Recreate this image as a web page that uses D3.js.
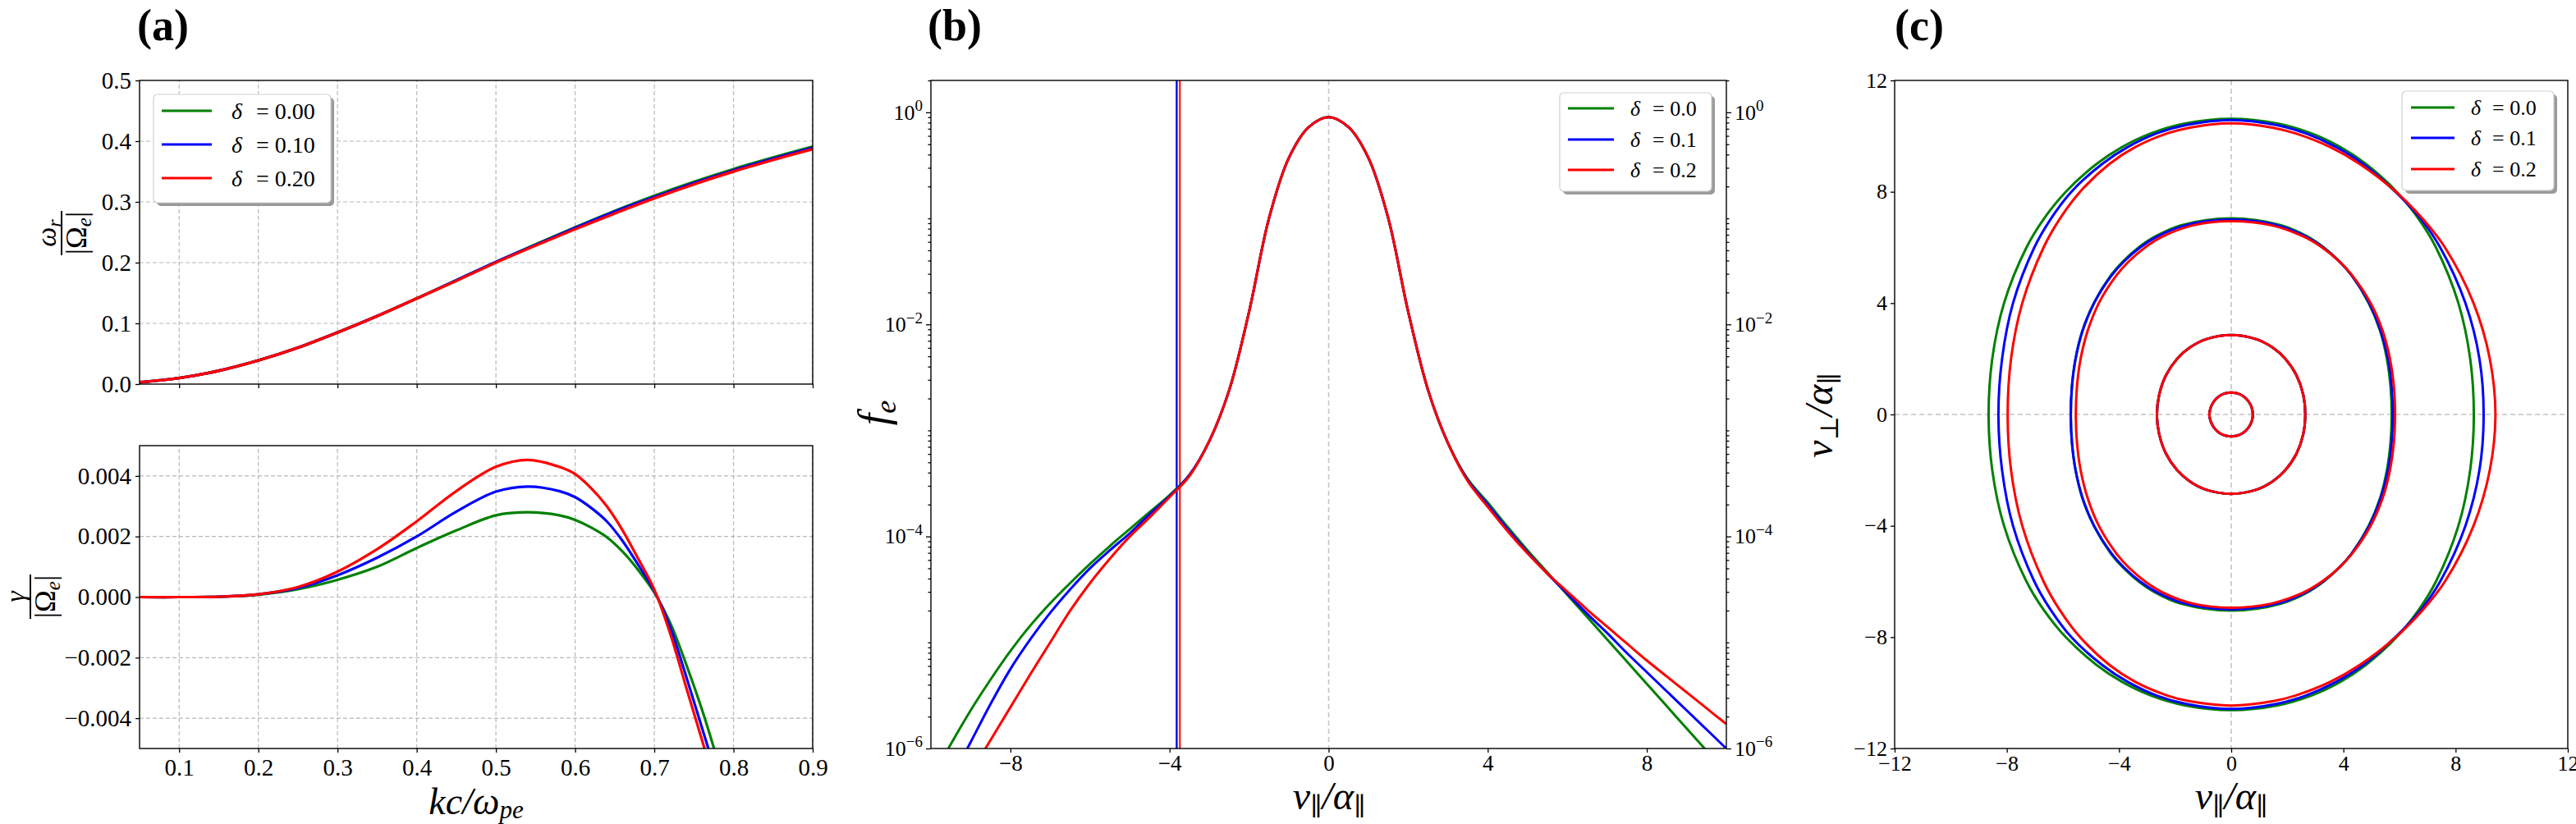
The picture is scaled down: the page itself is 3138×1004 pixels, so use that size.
<!DOCTYPE html>
<html>
<head>
<meta charset="utf-8">
<style>
  body { margin: 0; background: #fff; }
  svg text { fill: #000; font-family: "Liberation Serif", "DejaVu Serif", serif; }
</style>
</head>
<body>
<svg id="fig" width="3138" height="1004"></svg>
<script src="https://d3js.org/d3.v7.min.js"></script>
<script>
// ---------------- data ----------------
var seriesColors = ["green", "blue", "red"];
var deltaLabelsA = ["0.00", "0.10", "0.20"];
var deltaLabelsBC = ["0.0", "0.1", "0.2"];

// (a) top: real frequency omega_r/|Omega_e|
var kcOmega = [0.05, 0.1, 0.15, 0.2, 0.25, 0.3, 0.35, 0.4, 0.45, 0.5, 0.55, 0.6, 0.65, 0.7, 0.75, 0.8, 0.85, 0.9];
var omegaR00 = [0.003, 0.010, 0.022, 0.039, 0.060, 0.085, 0.112, 0.141, 0.171, 0.201, 0.230, 0.258, 0.285, 0.310, 0.333, 0.354, 0.373, 0.391];
var omegaR10 = [0.003, 0.010, 0.022, 0.039, 0.060, 0.085, 0.112, 0.141, 0.171, 0.201, 0.229, 0.257, 0.284, 0.308, 0.331, 0.352, 0.371, 0.389];
var omegaR20 = [0.003, 0.010, 0.022, 0.039, 0.060, 0.085, 0.112, 0.141, 0.170, 0.200, 0.228, 0.255, 0.281, 0.306, 0.329, 0.350, 0.369, 0.387];

// (a) bottom: growth rate gamma/|Omega_e|
var kcGamma = [0.05, 0.1, 0.15, 0.2, 0.25, 0.3, 0.35, 0.4, 0.45, 0.5, 0.54, 0.58, 0.6, 0.62, 0.64, 0.66, 0.68, 0.7, 0.72, 0.74, 0.76, 0.78];
var gamma00 = [0, 0, 0.00001, 0.00008, 0.00026, 0.00057, 0.001, 0.00162, 0.0022, 0.0027, 0.0028, 0.0027, 0.00255, 0.0023, 0.00198, 0.0015, 0.00088, 0.00015, -0.00085, -0.0022, -0.0037, -0.0054];
var gamma10 = [0, 0, 0.00001, 0.00009, 0.0003, 0.00072, 0.0013, 0.002, 0.00282, 0.00348, 0.00365, 0.0035, 0.0033, 0.00295, 0.0025, 0.00185, 0.00105, 0.0002, -0.001, -0.0026, -0.0043, -0.006];
var gamma20 = [0, 0, 0.00001, 0.00009, 0.00033, 0.00084, 0.00158, 0.0025, 0.0035, 0.0043, 0.00453, 0.0043, 0.00406, 0.0036, 0.003, 0.0022, 0.00125, 0.00025, -0.0012, -0.00296, -0.0047, -0.0065];

// (b) f_e, read as decades (log10 f_e) on the log axis
var vPar = [-10, -9.5, -9, -8.5, -8, -7.5, -7, -6.5, -6, -5.5, -5, -4.5, -4, -3.5, -3, -2.5, -2, -1.5, -1, -0.5, 0,
            0.5, 1, 1.5, 2, 2.5, 3, 3.5, 4, 4.5, 5, 5.5, 6, 6.5, 7, 7.5, 8, 8.5, 9, 9.5, 10];
var feDec00 = [-6.3, -5.96, -5.64, -5.35, -5.08, -4.84, -4.63, -4.44, -4.26, -4.09, -3.93, -3.77, -3.61, -3.42, -3.1, -2.62, -1.88, -1.0, -0.43, -0.14, -0.046,
               -0.14, -0.43, -1.0, -1.88, -2.62, -3.12, -3.46, -3.68, -3.91, -4.13, -4.34, -4.55, -4.76, -4.97, -5.18, -5.39, -5.6, -5.81, -6.02, -6.23];
var feDec10 = [-6.68, -6.3, -5.94, -5.58, -5.25, -4.97, -4.72, -4.5, -4.3, -4.13, -3.97, -3.79, -3.62, -3.42, -3.1, -2.62, -1.88, -1.0, -0.43, -0.14, -0.046,
               -0.14, -0.43, -1.0, -1.88, -2.62, -3.12, -3.47, -3.70, -3.93, -4.15, -4.35, -4.54, -4.73, -4.91, -5.10, -5.28, -5.46, -5.64, -5.82, -6.0];
var feDec20 = [-6.87, -6.55, -6.23, -5.92, -5.61, -5.3, -5.0, -4.7, -4.44, -4.21, -4.0, -3.82, -3.63, -3.43, -3.1, -2.62, -1.88, -1.0, -0.43, -0.14, -0.046,
               -0.14, -0.43, -1.0, -1.88, -2.62, -3.12, -3.48, -3.72, -3.95, -4.16, -4.35, -4.52, -4.69, -4.85, -5.01, -5.17, -5.32, -5.47, -5.62, -5.77];
var cutoffV = [-3.82, -3.82, -3.74];

// (c) contours of f_e: upper half [v_par, v_perp]; the lower half is its mirror in v_perp
var outer00 = [[8.65,0],[8.52,2],[8.1,4],[7.3,6],[6.7,7],[5.9,8],[4.8,9],[3.9,9.6],[2.85,10.1],[1.65,10.45],[0,10.62],
               [-1.65,10.45],[-2.85,10.1],[-3.9,9.6],[-4.8,9],[-5.9,8],[-6.7,7],[-7.3,6],[-8.1,4],[-8.52,2],[-8.65,0]];
var outer10 = [[9.0,0],[8.85,2],[8.35,4],[7.45,6],[6.78,7],[5.85,8],[4.7,9],[3.75,9.6],[2.65,10.1],[1.6,10.4],[0,10.58],
               [-1.6,10.4],[-2.65,10.1],[-3.7,9.6],[-4.6,9],[-5.7,8],[-6.45,7],[-7.02,6],[-7.78,4],[-8.17,2],[-8.3,0]];
var outer20 = [[9.42,0],[9.22,2],[8.64,4],[7.62,6],[6.85,7],[5.87,8],[4.58,9],[3.54,9.6],[2.28,10.1],[1.5,10.3],[0,10.46],
               [-1.5,10.3],[-2.27,10.1],[-3.43,9.6],[-4.34,9],[-5.39,8],[-6.13,7],[-6.69,6],[-7.45,4],[-7.85,2],[-7.97,0]];
var second00 = [[5.72,0],[5.68,1],[5.55,2],[5.31,3],[4.9,4],[4.29,5],[3.86,5.5],[3.3,6],[2.7,6.4],[1.78,6.8],[0,7.05],
                [-1.78,6.8],[-2.7,6.4],[-3.3,6],[-3.86,5.5],[-4.29,5],[-4.9,4],[-5.31,3],[-5.55,2],[-5.68,1],[-5.72,0]];
var second10 = [[5.76,0],[5.72,1],[5.59,2],[5.33,3],[4.92,4],[4.29,5],[3.85,5.5],[3.27,6],[2.64,6.4],[1.63,6.8],[0,7.0],
                [-1.62,6.8],[-2.62,6.4],[-3.25,6],[-3.82,5.5],[-4.26,5],[-4.89,4],[-5.3,3],[-5.55,2],[-5.68,1],[-5.72,0]];
var second20 = [[5.84,0],[5.8,1],[5.66,2],[5.4,3],[4.97,4],[4.31,5],[3.85,5.5],[3.24,6],[2.56,6.4],[1.41,6.8],[0,6.94],
                [-1.34,6.8],[-2.43,6.4],[-3.07,6],[-3.65,5.5],[-4.09,5],[-4.72,4],[-5.12,3],[-5.37,2],[-5.5,1],[-5.54,0]];
var third00 = [[2.64,0],[2.57,0.7],[2.33,1.4],[1.93,2.0],[1.48,2.4],[0.9,2.7],[0,2.85],
               [-0.9,2.7],[-1.48,2.4],[-1.93,2.0],[-2.33,1.4],[-2.57,0.7],[-2.65,0]];
var inner00 = [[0.77,0],[0.73,0.25],[0.63,0.45],[0.5,0.6],[0.36,0.7],[0.21,0.76],[0,0.79],
               [-0.21,0.76],[-0.36,0.7],[-0.5,0.6],[-0.63,0.45],[-0.73,0.25],[-0.78,0]];

// ---------------- figure ----------------
var FONT = '"Liberation Serif", "DejaVu Serif", serif';
var svg = d3.select("#fig").attr("font-family", FONT);
var defs = svg.append("defs");

var xA = d3.scaleLinear().domain([0.05, 0.9]).range([170, 990]);
var yAtop = d3.scaleLinear().domain([0, 0.5]).range([468, 98]);
var yAbot = d3.scaleLinear().domain([-0.005, 0.005]).range([912, 543]);
var xB = d3.scaleLinear().domain([-10, 10]).range([1134, 2103]);
var yB = d3.scaleLog().domain([1e-6, 2]).range([912, 98]);
var xC = d3.scaleLinear().domain([-12, 12]).range([2308, 3128]);
var yC = d3.scaleLinear().domain([-12, 12]).range([912, 98]);

function addClip(id, xs, ys) {
  defs.append("clipPath").attr("id", id).append("rect")
      .attr("x", xs.range()[0]).attr("y", ys.range()[1])
      .attr("width", xs.range()[1] - xs.range()[0])
      .attr("height", ys.range()[0] - ys.range()[1]);
}
addClip("clipAt", xA, yAtop);
addClip("clipAb", xA, yAbot);
addClip("clipB", xB, yB);
addClip("clipC", xC, yC);

function styleAxis(g, fs) {
  g.attr("font-family", FONT).attr("font-size", fs);
  g.select(".domain").remove();
  g.selectAll(".tick line").attr("stroke", "#000").attr("stroke-width", 1.3);
  g.selectAll(".tick text").attr("fill", "#000");
}

function frame(xs, ys) {
  svg.append("rect")
      .attr("x", xs.range()[0]).attr("y", ys.range()[1])
      .attr("width", xs.range()[1] - xs.range()[0])
      .attr("height", ys.range()[0] - ys.range()[1])
      .attr("fill", "none").attr("stroke", "#000").attr("stroke-width", 1.4);
}

// dashed grid for panel (a)
var xTicksA = [0.1, 0.2, 0.3, 0.4, 0.5, 0.6, 0.7, 0.8, 0.9];
function gridA(ys, yTicks) {
  var g = svg.append("g").attr("stroke", "#b8b8b8").attr("stroke-width", 1.2).attr("stroke-dasharray", "5,3");
  g.selectAll("line.gx").data(xTicksA).join("line").attr("class", "gx")
      .attr("x1", function(d) { return xA(d); }).attr("x2", function(d) { return xA(d); })
      .attr("y1", ys.range()[0]).attr("y2", ys.range()[1]);
  g.selectAll("line.gy").data(yTicks).join("line").attr("class", "gy")
      .attr("x1", xA.range()[0]).attr("x2", xA.range()[1])
      .attr("y1", function(d) { return ys(d); }).attr("y2", function(d) { return ys(d); });
}

// ---------- panel (a) top ----------
var yTicksAt = [0, 0.1, 0.2, 0.3, 0.4, 0.5];
gridA(yAtop, [0.1, 0.2, 0.3, 0.4]);
var lineAt = d3.line().curve(d3.curveCatmullRom)
    .x(function(d) { return xA(d[0]); }).y(function(d) { return yAtop(d[1]); });
[omegaR00, omegaR10, omegaR20].forEach(function(s, i) {
  svg.append("path").attr("clip-path", "url(#clipAt)")
      .attr("d", lineAt(d3.zip(kcOmega, s)))
      .attr("fill", "none").attr("stroke", seriesColors[i]).attr("stroke-width", 3.4);
});
svg.append("g").attr("transform", "translate(170,0)")
    .call(d3.axisLeft(yAtop).tickValues(yTicksAt).tickFormat(d3.format(".1f")).tickSize(5).tickPadding(5))
    .call(styleAxis, 29);
svg.append("g").attr("transform", "translate(0,468)")
    .call(d3.axisBottom(xA).tickValues(xTicksA).tickFormat("").tickSize(5))
    .call(styleAxis, 29);
frame(xA, yAtop);

// ---------- panel (a) bottom ----------
var yTicksAb = [-0.004, -0.002, 0, 0.002, 0.004];
gridA(yAbot, yTicksAb);
var lineAb = d3.line().curve(d3.curveCatmullRom)
    .x(function(d) { return xA(d[0]); }).y(function(d) { return yAbot(d[1]); });
[gamma00, gamma10, gamma20].forEach(function(s, i) {
  svg.append("path").attr("clip-path", "url(#clipAb)")
      .attr("d", lineAb(d3.zip(kcGamma, s)))
      .attr("fill", "none").attr("stroke", seriesColors[i]).attr("stroke-width", 3.2);
});
svg.append("g").attr("transform", "translate(170,0)")
    .call(d3.axisLeft(yAbot).tickValues(yTicksAb).tickFormat(d3.format(".3f")).tickSize(5).tickPadding(5))
    .call(styleAxis, 29);
svg.append("g").attr("transform", "translate(0,912)")
    .call(d3.axisBottom(xA).tickValues(xTicksA).tickFormat(d3.format(".1f")).tickSize(5).tickPadding(7))
    .call(styleAxis, 29);
frame(xA, yAbot);

// ---------- panel (b) ----------
svg.append("line").attr("x1", xB(0)).attr("x2", xB(0)).attr("y1", 98).attr("y2", 912)
    .attr("stroke", "#c4c4c4").attr("stroke-width", 1.6).attr("stroke-dasharray", "6,4");
cutoffV.forEach(function(v, i) {
  svg.append("line").attr("x1", xB(v)).attr("x2", xB(v)).attr("y1", 98).attr("y2", 912)
      .attr("stroke", seriesColors[i]).attr("stroke-width", 2);
});
var lineB = d3.line().curve(d3.curveCatmullRom)
    .x(function(d) { return xB(d[0]); }).y(function(d) { return yB(Math.pow(10, d[1])); });
[feDec00, feDec10, feDec20].forEach(function(s, i) {
  svg.append("path").attr("clip-path", "url(#clipB)")
      .attr("d", lineB(d3.zip(vPar, s)))
      .attr("fill", "none").attr("stroke", seriesColors[i]).attr("stroke-width", 3);
});

var majorB = [1e-6, 1e-4, 1e-2, 1];
var minorB = [];
for (var k = -6; k <= 0; k++) {
  for (var m = 1; m <= 9; m++) {
    var v = m * Math.pow(10, k);
    if (v > 2.0001) continue;
    if (m === 1 && k % 2 === 0) continue;
    minorB.push(v);
  }
}
function powLabels(g) {
  g.selectAll(".tick text").each(function(d) {
    var e = Math.round(Math.log10(d));
    var t = d3.select(this).text("");
    t.append("tspan").text("10");
    t.append("tspan").attr("font-size", 19).attr("dy", "-0.55em")
        .text(e === 0 ? "0" : "\u2212" + (-e));
  });
}
svg.append("g").attr("transform", "translate(1134,0)")
    .call(d3.axisLeft(yB).tickValues(minorB).tickFormat("").tickSize(3.5)).call(styleAxis, 26);
svg.append("g").attr("transform", "translate(1134,0)")
    .call(d3.axisLeft(yB).tickValues(majorB).tickSize(6).tickPadding(4)).call(styleAxis, 26).call(powLabels);
svg.append("g").attr("transform", "translate(2103,0)")
    .call(d3.axisRight(yB).tickValues(minorB).tickFormat("").tickSize(3.5)).call(styleAxis, 26);
svg.append("g").attr("transform", "translate(2103,0)")
    .call(d3.axisRight(yB).tickValues(majorB).tickSize(6).tickPadding(4)).call(styleAxis, 26).call(powLabels);
svg.append("g").attr("transform", "translate(0,912)")
    .call(d3.axisBottom(xB).tickValues([-8, -4, 0, 4, 8]).tickFormat(d3.format("d")).tickSize(5).tickPadding(3))
    .call(styleAxis, 27);
frame(xB, yB);

// ---------- panel (c) ----------
svg.append("line").attr("x1", xC(0)).attr("x2", xC(0)).attr("y1", 98).attr("y2", 912)
    .attr("stroke", "#c4c4c4").attr("stroke-width", 1.6).attr("stroke-dasharray", "6,4");
svg.append("line").attr("x1", 2308).attr("x2", 3128).attr("y1", yC(0)).attr("y2", yC(0))
    .attr("stroke", "#c4c4c4").attr("stroke-width", 1.6).attr("stroke-dasharray", "6,4");

var lineC = d3.line().curve(d3.curveCatmullRomClosed)
    .x(function(d) { return xC(d[0]); }).y(function(d) { return yC(d[1]); });
function closedContour(upper) {
  var lower = upper.slice(1, -1).reverse().map(function(p) { return [p[0], -p[1]]; });
  return upper.concat(lower);
}
var contourSets = [
  [outer00, outer10, outer20],
  [second00, second10, second20],
  [third00, third00, third00],
  [inner00, inner00, inner00]
];
contourSets.forEach(function(set) {
  set.forEach(function(upper, i) {
    svg.append("path").attr("clip-path", "url(#clipC)")
        .attr("d", lineC(closedContour(upper)))
        .attr("fill", "none").attr("stroke", seriesColors[i]).attr("stroke-width", 3);
  });
});
var ticksC = [-12, -8, -4, 0, 4, 8, 12];
svg.append("g").attr("transform", "translate(2308,0)")
    .call(d3.axisLeft(yC).tickValues(ticksC).tickFormat(d3.format("d")).tickSize(5).tickPadding(4))
    .call(styleAxis, 26);
svg.append("g").attr("transform", "translate(0,912)")
    .call(d3.axisBottom(xC).tickValues(ticksC).tickFormat(d3.format("d")).tickSize(5).tickPadding(4))
    .call(styleAxis, 26);
frame(xC, yC);

// ---------- legends ----------
function legend(box, rows, labels, lineX, deltaX, eqX, fs) {
  var g = svg.append("g");
  g.append("rect").attr("x", box[0] + 4).attr("y", box[1] + 4).attr("width", box[2]).attr("height", box[3])
      .attr("rx", 5).attr("fill", "#9a9a9a");
  g.append("rect").attr("x", box[0]).attr("y", box[1]).attr("width", box[2]).attr("height", box[3])
      .attr("rx", 5).attr("fill", "#fff").attr("stroke", "#d0d0d0").attr("stroke-width", 1.2);
  labels.forEach(function(lab, i) {
    g.append("line").attr("x1", lineX[0]).attr("x2", lineX[1]).attr("y1", rows[i]).attr("y2", rows[i])
        .attr("stroke", seriesColors[i]).attr("stroke-width", 3.2);
    g.append("text").attr("x", deltaX).attr("y", rows[i]).attr("dy", "0.35em")
        .attr("font-size", fs).attr("font-style", "italic").text("\u03b4");
    g.append("text").attr("x", eqX).attr("y", rows[i]).attr("dy", "0.35em")
        .attr("font-size", fs).text("= " + lab);
  });
}
legend([187, 115, 216, 132], [135, 176, 217], deltaLabelsA, [197, 258], 282, 312, 28);
legend([1900, 113, 185, 120], [132, 170, 207], deltaLabelsBC, [1910, 1966], 1986, 2013, 26);
legend([2926, 111, 185, 121], [131, 168, 206], deltaLabelsBC, [2937, 2990], 3010, 3036, 26);

// ---------- panel letters ----------
[["(a)", 167], ["(b)", 1130], ["(c)", 2308]].forEach(function(p) {
  svg.append("text").attr("x", p[1]).attr("y", 49).attr("font-size", 54).attr("font-weight", "bold").text(p[0]);
});

// ---------- axis titles ----------
function sub(t, s, fs, dy) {
  t.append("tspan").attr("font-size", fs).attr("dy", dy).text(s);
}
function fraction(cx, cy, numFn, halfBar) {
  var g = svg.append("g").attr("transform", "translate(" + cx + "," + cy + ") rotate(-90)");
  var num = g.append("text").attr("y", -7).attr("text-anchor", "middle").attr("font-size", 34);
  numFn(num);
  g.append("line").attr("x1", -halfBar).attr("x2", halfBar).attr("stroke", "#000").attr("stroke-width", 2);
  var den = g.append("text").attr("y", 30).attr("text-anchor", "middle").attr("font-size", 36);
  den.append("tspan").text("|\u03a9");
  den.append("tspan").attr("font-style", "italic").attr("font-size", 25).attr("dy", 6).text("e");
  den.append("tspan").attr("dy", -6).text("|");
}
fraction(75, 284, function(t) {
  t.append("tspan").attr("font-style", "italic").text("\u03c9");
  t.append("tspan").attr("font-style", "italic").attr("font-size", 24).attr("dy", 6).text("r");
}, 27);
fraction(37, 727, function(t) {
  t.append("tspan").attr("font-style", "italic").text("\u03b3");
}, 27);

var xlabA = svg.append("text").attr("x", 580).attr("y", 992).attr("text-anchor", "middle")
    .attr("font-size", 46).attr("font-style", "italic");
xlabA.append("tspan").text("kc/\u03c9");
sub(xlabA, "pe", 31, 5);

function vLabel(t, perp) {
  t.append("tspan").text("v");
  sub(t, perp ? "\u22a5" : "\u2225", 31, 7);
  t.append("tspan").attr("dy", -7).text("/\u03b1");
  sub(t, "\u2225", 31, 7);
}
vLabel(svg.append("text").attr("x", 1619).attr("y", 986).attr("text-anchor", "middle")
    .attr("font-size", 48).attr("font-style", "italic"), false);
vLabel(svg.append("text").attr("x", 2718).attr("y", 986).attr("text-anchor", "middle")
    .attr("font-size", 48).attr("font-style", "italic"), false);

var ylabB = svg.append("text").attr("transform", "translate(1082,503) rotate(-90)")
    .attr("text-anchor", "middle").attr("font-size", 52).attr("font-style", "italic");
ylabB.append("tspan").text("f");
sub(ylabB, "e", 36, 9);

vLabel(svg.append("text").attr("transform", "translate(2232,506) rotate(-90)")
    .attr("text-anchor", "middle").attr("font-size", 48).attr("font-style", "italic"), true);
</script>
</body>
</html>
